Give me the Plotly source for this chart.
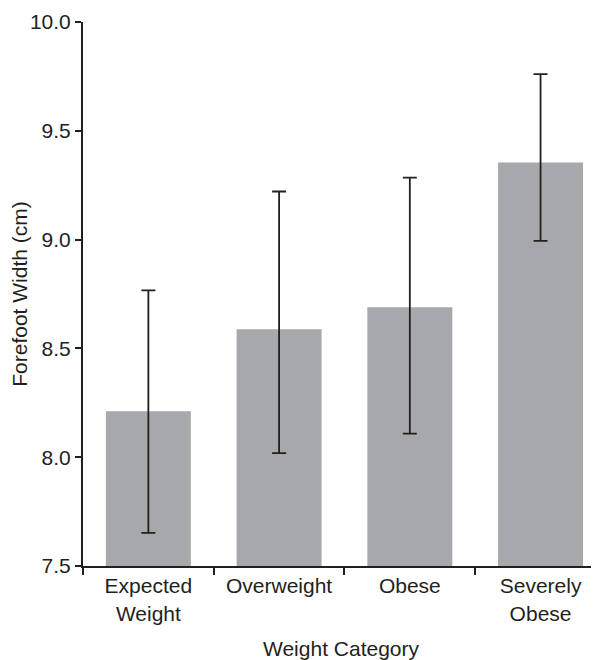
import plotly.graph_objects as go

categories = ["Expected<br>Weight", "Overweight", "Obese", "Severely<br>Obese"]
means = [8.211, 8.588, 8.689, 9.354]
upper = [8.767, 9.221, 9.285, 9.760]
lower = [7.652, 8.019, 8.108, 8.994]

err_plus = [u - m for u, m in zip(upper, means)]
err_minus = [m - l for m, l in zip(means, lower)]

font_family = "Liberation Sans, Arial, Helvetica, sans-serif"
ink = "#231f20"
fs = 21

fig = go.Figure(
    go.Bar(
        x=categories,
        y=means,
        marker=dict(color="#a7a8ab", line=dict(width=0)),
        error_y=dict(
            type="data",
            symmetric=False,
            array=err_plus,
            arrayminus=err_minus,
            color=ink,
            thickness=1.8,
            width=7,
        ),
    )
)

fig.update_layout(
    width=591,
    height=652,
    margin=dict(l=75, r=0, t=14, b=94),
    paper_bgcolor="white",
    plot_bgcolor="white",
    bargap=0.35,
    showlegend=False,
    font=dict(family=font_family, size=fs, color=ink),
    xaxis=dict(
        type="category",
        range=[-0.5, 3.447],
        automargin=False,
        showline=True,
        linecolor=ink,
        linewidth=2,
        ticks="outside",
        tickson="boundaries",
        ticklen=7,
        tickwidth=2,
        tickcolor=ink,
        showgrid=False,
        zeroline=False,
        tickfont=dict(size=fs),
        title=dict(text="Weight Category", font=dict(size=fs), standoff=18),
    ),
    yaxis=dict(
        range=[7.5, 10.0],
        dtick=0.5,
        tick0=7.5,
        tickformat=".1f",
        automargin=False,
        showline=True,
        linecolor=ink,
        linewidth=2,
        ticks="outside",
        ticklen=6,
        tickwidth=2,
        tickcolor=ink,
        showgrid=False,
        zeroline=False,
        tickfont=dict(size=fs),
        title=dict(text="Forefoot Width (cm)", font=dict(size=fs), standoff=2),
    ),
)

fig.write_html("out.html")
